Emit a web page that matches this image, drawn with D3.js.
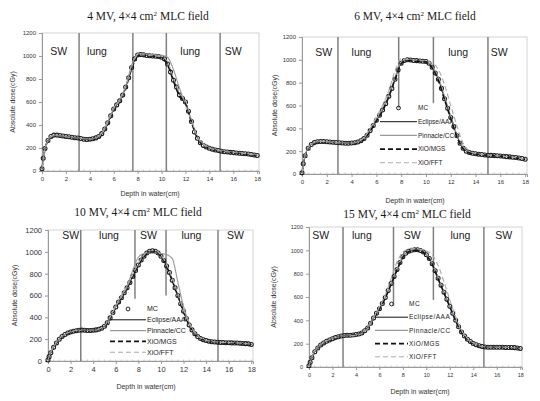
<!DOCTYPE html>
<html>
<head>
<meta charset="utf-8">
<script src="https://cdn.jsdelivr.net/npm/d3@7"></script>
<style>
    body{margin:0;background:#fff;}
    svg{display:block;font-family:Arial,"Liberation Sans",sans-serif;}
</style>
</head>
<body>
<svg id="chart" width="540" height="401"></svg>
<script>
// depth of the MC points (cm), same grid in every panel
const mcDepth = [0, 0.1, 0.25, 0.5, 0.75, 1, 1.25, 1.5, 1.75, 2, 2.25, 2.5, 2.75, 3, 3.25, 3.5, 3.75, 4,
    4.25, 4.5, 4.75, 5, 5.25, 5.5, 5.75, 6, 6.25, 6.5, 6.75, 7, 7.25, 7.5, 7.75, 8, 8.25, 8.5, 8.75, 9,
    9.25, 9.5, 9.75, 10, 10.25, 10.5, 10.75, 11, 11.25, 11.5, 11.75, 12, 12.25, 12.5, 12.75, 13, 13.25,
    13.5, 13.75, 14, 14.25, 14.5, 14.75, 15, 15.25, 15.5, 15.75, 16, 16.25, 16.5, 16.75, 17, 17.25, 17.5, 17.75, 18];
// depth of the calculated curves (cm)
const calcDepth = [0, 0.25, 0.5, 1, 1.5, 2, 3, 4, 4.5, 5, 5.5, 6, 6.5, 7, 7.5, 8, 8.5, 9, 9.5, 10,
    10.5, 11, 11.5, 12, 12.5, 13, 13.5, 14, 15, 16, 17, 18];

const xTicks = [0, 2, 4, 6, 8, 10, 12, 14, 16, 18];
const yTicks = [0, 200, 400, 600, 800, 1000, 1200];
const seriesNames = ['MC', 'Eclipse/AAA', 'Pinnacle/CC', 'XiO/MGS', 'XiO/FFT'];

// 4 MV
const mc4 = [20, 110, 195, 265, 300, 312, 312, 308, 305, 300, 297, 293, 290, 287, 282, 276, 274, 276,
    280, 288, 300, 325, 365, 420, 480, 540, 575, 610, 660, 730, 810, 900, 975, 1008, 1012, 1010, 1005, 1003,
    1000, 998, 995, 990, 975, 930, 860, 790, 730, 660, 630, 600, 520, 430, 340, 285, 245, 222, 208, 198,
    190, 183, 178, 172, 168, 165, 162, 160, 157, 155, 152, 150, 147, 144, 140, 135];
const aaa4 = [20, 195, 265, 310, 305, 298, 285, 275, 285, 320, 415, 535, 610, 725, 895, 1005, 1008, 1002, 998, 990, 935, 795, 665, 600, 435, 290, 225, 198, 172, 160, 150, 135];
const cc4 = [20, 200, 270, 312, 308, 300, 288, 278, 290, 330, 430, 545, 620, 740, 920, 1020, 1020, 1015, 1010, 1005, 990, 880, 720, 580, 430, 300, 235, 205, 178, 165, 155, 140];
const mgs4 = [20, 190, 262, 305, 302, 296, 283, 273, 283, 318, 410, 530, 605, 720, 890, 1000, 1005, 1000, 995, 985, 925, 780, 650, 590, 425, 285, 222, 196, 170, 158, 148, 132];
const fft4 = [20, 192, 265, 308, 304, 297, 285, 276, 286, 322, 420, 540, 612, 730, 905, 1008, 1010, 1004, 1000, 992, 950, 810, 680, 610, 445, 295, 228, 200, 173, 161, 151, 136];
const bounds4 = [3.1, 7.6, 10.4, 14.9];
const boundLow4 = [0, 0, 0, 0];
const zones4 = ['SW', 'lung', 'lung', 'SW'];
const zoneX4 = [1.4, 4.6, 12.4, 16.0];

// 6 MV
const mc6 = [10, 90, 160, 225, 258, 275, 283, 285, 284, 282, 280, 278, 276, 274, 272, 270, 270, 271,
    274, 280, 292, 310, 340, 380, 425, 470, 515, 560, 615, 680, 750, 830, 910, 970, 995, 1000, 998, 995,
    993, 990, 988, 985, 970, 935, 885, 830, 750, 660, 575, 495, 415, 335, 270, 225, 200, 188, 182, 177,
    173, 170, 167, 165, 163, 161, 159, 157, 155, 152, 150, 147, 144, 140, 136, 130];
const aaa6 = [10, 160, 225, 275, 285, 282, 274, 271, 280, 310, 380, 470, 560, 680, 830, 970, 1000, 995, 990, 985, 935, 830, 660, 495, 335, 225, 188, 177, 165, 157, 147, 130];
const cc6 = [10, 165, 230, 278, 288, 284, 276, 272, 282, 315, 390, 480, 570, 690, 845, 980, 1003, 998, 993, 988, 945, 845, 680, 510, 345, 232, 192, 180, 167, 158, 148, 131];
const mgs6 = [10, 158, 222, 272, 283, 280, 272, 269, 278, 305, 375, 465, 555, 675, 825, 965, 995, 992, 988, 982, 930, 820, 650, 485, 325, 220, 185, 175, 163, 155, 145, 128];
const fft6 = [10, 162, 228, 276, 286, 282, 273, 270, 282, 318, 400, 500, 600, 730, 900, 1010, 1005, 998, 995, 990, 975, 915, 780, 600, 420, 270, 205, 182, 166, 157, 147, 130];
const bounds6 = [2.9, 7.8, 10.6, 15.0];
const boundLow6 = [0, 580, 620, 0];
const zones6 = ['SW', 'lung', 'lung', 'SW'];
const zoneX6 = [1.75, 4.8, 12.6, 15.9];

// 10 MV
const mc10 = [10, 40, 75, 125, 165, 200, 225, 243, 256, 265, 272, 277, 281, 283, 282, 280, 280, 282,
    285, 290, 300, 318, 350, 395, 445, 495, 540, 580, 625, 670, 720, 775, 830, 880, 925, 960, 990, 1005,
    1010, 1005, 990, 960, 920, 870, 810, 740, 670, 600, 525, 455, 390, 330, 285, 250, 225, 207, 195, 187,
    181, 177, 174, 172, 170, 169, 168, 167, 166, 165, 164, 163, 161, 159, 157, 152];
const aaa10 = [10, 75, 125, 200, 243, 265, 283, 282, 290, 318, 395, 495, 580, 670, 775, 880, 960, 1005, 1005, 960, 870, 740, 600, 455, 330, 250, 207, 187, 172, 167, 163, 152];
const cc10 = [10, 80, 130, 205, 245, 266, 282, 280, 288, 315, 390, 500, 600, 690, 830, 950, 985, 990, 990, 985, 975, 940, 720, 500, 350, 260, 212, 189, 173, 168, 164, 153];
const mgs10 = [10, 72, 122, 197, 240, 263, 281, 280, 288, 315, 390, 490, 575, 665, 770, 875, 955, 1000, 1002, 958, 865, 735, 595, 450, 325, 247, 205, 185, 170, 165, 161, 150];
const fft10 = [10, 78, 128, 202, 245, 267, 284, 283, 292, 322, 400, 500, 585, 680, 790, 895, 970, 1010, 1010, 970, 885, 755, 612, 465, 338, 255, 210, 189, 173, 168, 164, 153];
const bounds10 = [2.9, 7.7, 10.45, 15.05];
const boundLow10 = [0, 570, 600, 0];
const zones10 = ['SW', 'lung', 'SW', 'lung', 'SW'];
const zoneX10 = [2.0, 5.4, 8.9, 12.7, 16.6];

// 15 MV
const mc15 = [10, 40, 80, 130, 163, 188, 205, 220, 232, 243, 252, 260, 266, 270, 272, 273, 275, 278,
    283, 292, 310, 335, 375, 420, 460, 500, 545, 595, 655, 715, 775, 835, 895, 945, 975, 992, 1000, 1005,
    1005, 998, 985, 962, 930, 885, 825, 760, 700, 640, 580, 520, 460, 400, 345, 300, 265, 238, 218, 202,
    190, 182, 176, 172, 170, 170, 170, 170, 169, 169, 168, 168, 167, 166, 163, 158];
const aaa15 = [10, 80, 130, 188, 220, 243, 270, 278, 292, 335, 420, 500, 595, 715, 835, 945, 992, 1005, 998, 962, 885, 760, 640, 520, 400, 300, 238, 202, 172, 170, 168, 158];
const cc15 = [10, 85, 135, 192, 224, 246, 272, 279, 294, 338, 425, 505, 600, 720, 840, 950, 995, 1008, 1000, 965, 890, 765, 645, 525, 405, 305, 240, 204, 173, 171, 169, 159];
const mgs15 = [10, 78, 128, 186, 218, 241, 268, 276, 290, 332, 415, 495, 590, 710, 830, 940, 988, 1002, 995, 958, 880, 755, 635, 515, 395, 297, 235, 200, 171, 169, 167, 157];
const fft15 = [10, 82, 132, 190, 222, 244, 266, 272, 288, 330, 420, 515, 620, 760, 900, 985, 1010, 1015, 1010, 995, 960, 870, 730, 575, 430, 315, 245, 205, 172, 170, 168, 158];
const bounds15 = [2.9, 7.2, 10.6, 14.9];
const boundLow15 = [0, 525, 575, 0];
const zones15 = ['SW', 'lung', 'SW', 'lung', 'SW'];
const zoneX15 = [1.0, 4.5, 8.8, 12.9, 16.6];

// line style of the calculated series (same order as seriesNames[1..])
const calcStyle = [
    {stroke: '#111', width: 1, dash: null},
    {stroke: '#999', width: 1.1, dash: null},
    {stroke: '#111', width: 1.6, dash: '5,3'},
    {stroke: '#aaa', width: 1.1, dash: '5,3'}
];

const panels = [
    {mv: 4, mc: mc4, calc: [aaa4, cc4, mgs4, fft4], bounds: bounds4, boundLow: boundLow4, zones: zones4, zoneX: zoneX4,
        box: {l: 42, r: 259, t: 33, b: 171}, titleX: 148, titleY: 20, xLabX: 150, xLabY: 196, yLabX: 15,
        tickFont: 6, zoneY: 22, legend: null},
    {mv: 6, mc: mc6, calc: [aaa6, cc6, mgs6, fft6], bounds: bounds6, boundLow: boundLow6, zones: zones6, zoneX: zoneX6,
        box: {l: 302, r: 527, t: 37, b: 174}, titleX: 415, titleY: 20, xLabX: 415, xLabY: 203, yLabX: 277,
        tickFont: 6, zoneY: 19, legend: {x0: 380, x1: 417, y: 108, dy: 13.7, font: 6.5, clipR: 455, spacing: 0}},
    {mv: 10, mc: mc10, calc: [aaa10, cc10, mgs10, fft10], bounds: bounds10, boundLow: boundLow10, zones: zones10, zoneX: zoneX10,
        box: {l: 48, r: 253, t: 230, b: 361}, titleX: 138, titleY: 216, xLabX: 146, xLabY: 389, yLabX: 17,
        tickFont: 7.5, zoneY: 9, legend: {x0: 110, x1: 146, y: 309, dy: 10.8, font: 7, clipR: null, spacing: 0}},
    {mv: 15, mc: mc15, calc: [aaa15, cc15, mgs15, fft15], bounds: bounds15, boundLow: boundLow15, zones: zones15, zoneX: zoneX15,
        box: {l: 309, r: 522, t: 227, b: 367}, titleX: 407, titleY: 218, xLabX: 420, xLabY: 394, yLabX: 276,
        tickFont: 5.5, zoneY: 12, legend: {x0: 375, x1: 408, y: 304, dy: 13.2, font: 6.5, clipR: null, spacing: 0.5}}
];

const svg = d3.select('#chart');

const drawPanel = (p, idx) => {
    const {l, r, t, b} = p.box;
    const x = d3.scaleLinear().domain([0, 18.15]).range([l, r]);
    const y = d3.scaleLinear().domain([0, 1200]).range([b, t]);
    const g = svg.append('g').attr('class', 'panel');

    // title
    const title = g.append('text')
        .attr('x', p.titleX).attr('y', p.titleY)
        .attr('text-anchor', 'middle')
        .style('font-family', '"Liberation Serif","Times New Roman",serif')
        .style('font-size', '11.5px')
        .attr('fill', '#1a1a1a');
    title.append('tspan').text(`${p.mv} MV, 4×4 cm`);
    title.append('tspan').attr('dy', -4).style('font-size', '7px').text('2');
    title.append('tspan').attr('dy', 4).text(' MLC field');

    // frame
    g.append('rect')
        .attr('x', l).attr('y', t)
        .attr('width', r - l).attr('height', b - t)
        .attr('fill', 'none').attr('stroke', '#c8c8c8').attr('stroke-width', 0.8);

    // axes
    const xAxis = g.append('g')
        .attr('transform', `translate(0,${b})`)
        .call(d3.axisBottom(x).tickValues(xTicks).tickSize(3).tickFormat(d3.format('d')));
    const yAxis = g.append('g')
        .attr('transform', `translate(${l},0)`)
        .call(d3.axisLeft(y).tickValues(yTicks).tickSize(3).tickFormat(d3.format('d')));
    [xAxis, yAxis].forEach(a => {
        a.select('.domain').attr('stroke', '#999');
        a.selectAll('.tick line').attr('stroke', '#999');
        a.selectAll('.tick text')
            .attr('fill', '#333')
            .style('font-size', p.tickFont + 'px')
            .style('font-family', 'Arial,"Liberation Sans",sans-serif');
    });
    // minor ticks along depth axis
    g.append('g').selectAll('line')
        .data(d3.range(0, 18.01, 0.5))
        .join('line')
        .attr('x1', d => x(d)).attr('x2', d => x(d))
        .attr('y1', b).attr('y2', b - 1.5)
        .attr('stroke', '#aaa').attr('stroke-width', 0.6);

    // axis titles
    g.append('text')
        .attr('x', p.xLabX).attr('y', p.xLabY)
        .attr('text-anchor', 'middle')
        .style('font-size', '7px').attr('fill', '#333')
        .text('Depth in water(cm)');
    g.append('text')
        .attr('transform', `translate(${p.yLabX},${(t + b) / 2}) rotate(-90)`)
        .attr('text-anchor', 'middle')
        .style('font-size', '7px').attr('fill', '#333')
        .text('Absolute dose(cGy)');

    // tissue boundaries
    g.append('g').selectAll('line')
        .data(p.bounds.map((d, i) => ({x: d, low: p.boundLow[i]})))
        .join('line')
        .attr('x1', d => x(d.x)).attr('x2', d => x(d.x))
        .attr('y1', y(1200)).attr('y2', d => y(d.low))
        .attr('stroke', '#808080').attr('stroke-width', 1.5);

    g.append('g').selectAll('text')
        .data(p.zones.map((d, i) => ({name: d, x: p.zoneX[i]})))
        .join('text')
        .attr('x', d => x(d.x)).attr('y', t + p.zoneY)
        .attr('text-anchor', 'middle')
        .style('font-size', '10.5px').attr('fill', '#1a1a1a')
        .text(d => d.name);

    // legend
    if (p.legend) {
        const lg = p.legend;
        const leg = g.append('g').attr('class', 'legend');
        if (lg.clipR) {
            const id = 'legclip' + idx;
            svg.append('defs').append('clipPath').attr('id', id)
                .append('rect').attr('x', lg.x0 - 10).attr('y', lg.y - 10)
                .attr('width', lg.clipR - lg.x0 + 10).attr('height', lg.dy * 5 + 10);
            leg.attr('clip-path', `url(#${id})`);
        }
        leg.append('circle')
            .attr('cx', (lg.x0 + lg.x1) / 2).attr('cy', lg.y).attr('r', 1.9)
            .attr('fill', 'none').attr('stroke', '#222').attr('stroke-width', 1);
        leg.selectAll('line')
            .data(calcStyle)
            .join('line')
            .attr('x1', lg.x0).attr('x2', lg.x1)
            .attr('y1', (d, i) => lg.y + lg.dy * (i + 1))
            .attr('y2', (d, i) => lg.y + lg.dy * (i + 1))
            .attr('stroke', d => d.stroke)
            .attr('stroke-width', d => d.width)
            .attr('stroke-dasharray', d => d.dash);
        leg.selectAll('text')
            .data(seriesNames)
            .join('text')
            .attr('x', lg.x1 + 1)
            .attr('y', (d, i) => lg.y + lg.dy * i)
            .attr('dy', '0.35em')
            .style('font-size', lg.font + 'px')
            .style('letter-spacing', lg.spacing + 'px')
            .attr('fill', '#222')
            .text(d => d);
    }

    // MC points
    g.append('g').selectAll('circle')
        .data(mcDepth.map((d, i) => ({x: d, y: p.mc[i]})))
        .join('circle')
        .attr('cx', d => x(d.x)).attr('cy', d => y(d.y))
        .attr('r', 2)
        .attr('fill', 'none').attr('stroke', '#1a1a1a').attr('stroke-width', 1.05);

    // calculated curves
    const line = d3.line()
        .x(d => x(d.x))
        .y(d => y(d.y))
        .curve(d3.curveMonotoneX);
    g.append('g').selectAll('path')
        .data(p.calc.map((vals, k) => ({style: calcStyle[k], pts: calcDepth.map((d, i) => ({x: d, y: vals[i]}))})))
        .join('path')
        .attr('d', d => line(d.pts))
        .attr('fill', 'none')
        .attr('stroke', d => d.style.stroke)
        .attr('stroke-width', d => d.style.width)
        .attr('stroke-dasharray', d => d.style.dash);
};

panels.forEach(drawPanel);
</script>
</body>
</html>
